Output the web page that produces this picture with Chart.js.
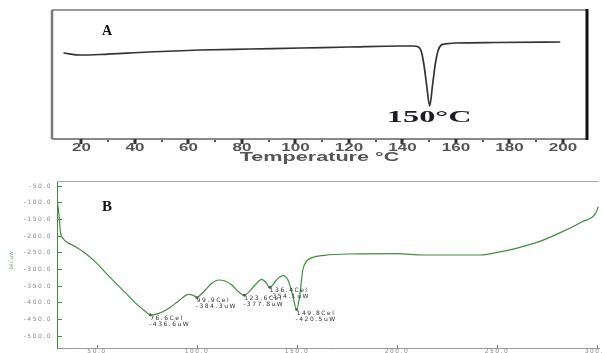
<html>

<head>
    <meta charset="utf-8" />
    <script src="https://cdn.jsdelivr.net/npm/chart.js@4.4.0/dist/chart.umd.min.js"></script>
    <title>DSC curves</title>
    <style>
        body { margin: 0; background: #fff; }
        canvas { position: absolute; left: 0; }
    </style>
</head>

<body>
    <canvas id="chart-a" width="603" height="170" style="top:0px"></canvas>
    <canvas id="chart-b" width="603" height="183" style="top:170px"></canvas>
    <script>
        // panel A : temperature (°C) vs heat flow (arbitrary units)
        const tempA = [13.3, 19.6, 27, 45, 64.5, 83, 102, 120, 139.4, 144, 146, 147, 148, 149, 150.2, 151.3, 152.3, 153.3, 154.5, 156, 160, 175, 199];
        const flowA = [86, 84, 84.5, 87, 89, 90, 91, 92, 93, 93, 92, 88, 75, 55, 33, 55, 75, 88, 94, 95, 96, 96.5, 97];
        const ticksA = [20, 30, 40, 50, 60, 70, 80, 90, 100, 110, 120, 130, 140, 150, 160, 170, 180, 190, 200];
        const labelsA = [20, 40, 60, 80, 100, 120, 140, 160, 180, 200];

        // panel B : temperature (Cel) vs DSC (uW)
        const tempB = [30.1, 31.1, 31.7, 33, 34.7, 39.7, 44.6, 49.6, 54.6, 59.5, 64.5, 69.4, 74.4, 76.6, 81, 86, 90.9, 95.9, 98.2, 99.9, 101.5, 104.2, 107.4, 110.8, 114.1, 117.4, 120.7, 123.6, 125.6, 129, 132.4, 134.5, 136.4, 139.7, 143, 145.5, 148, 149.8, 151.3, 152.9, 154.6, 157.9, 163.7, 175.2, 200, 213.3, 241.4, 249.6, 259.6, 271.1, 282.7, 292.6, 299.3, 300.6];
        const dscB = [-92, -142, -187, -207, -217, -234, -254, -280, -312, -342, -372, -402, -427, -436.6, -432, -417, -394, -375, -378, -384.3, -378, -362, -342, -332, -335, -347, -367, -377.8, -370, -347, -330, -340, -354.1, -332, -319, -332, -382, -420.5, -382, -302, -277, -264, -258, -254, -253, -257, -257, -250, -237, -217, -187, -157, -132, -112];
        const peakT = [76.6, 99.9, 123.6, 136.4, 149.8];
        const peakV = [-436.6, -384.3, -377.8, -354.1, -420.5];
        const ticksBx = [50, 100, 150, 200, 250, 300];
        const ticksBy = [-50, -100, -150, -200, -250, -300, -350, -400, -450, -500];

        const green = '#3f8f3f';

        Chart.defaults.animation = false;
        Chart.defaults.font.family = '"DejaVu Sans", sans-serif';
        Chart.defaults.plugins.legend.display = false;
        Chart.defaults.plugins.tooltip.enabled = false;

        // keep the plot box exactly where the picture has it
        function noPad(s) {
            s.paddingTop = 0; s.paddingBottom = 0;
            s.paddingLeft = 0; s.paddingRight = 0;
        }

        // frame, tick marks and stretched labels of panel A
        const panelA = {
            id: 'panelA',
            beforeDatasetsDraw(chart) {
                const { ctx, chartArea: a } = chart;
                ctx.save();
                ctx.lineWidth = 2; ctx.strokeStyle = '#9a9a9a';
                ctx.beginPath(); ctx.moveTo(a.left, a.top); ctx.lineTo(a.right, a.top); ctx.stroke();
                ctx.strokeStyle = '#888';
                ctx.beginPath(); ctx.moveTo(a.left, a.bottom); ctx.lineTo(a.right, a.bottom); ctx.stroke();
                ctx.lineWidth = 2.5; ctx.strokeStyle = '#7a7a7a';
                ctx.beginPath(); ctx.moveTo(a.left, a.top); ctx.lineTo(a.left, a.bottom); ctx.stroke();
                ctx.lineWidth = 3; ctx.strokeStyle = '#111';
                ctx.beginPath(); ctx.moveTo(a.right, a.top - 1); ctx.lineTo(a.right, a.bottom + 1); ctx.stroke();
                ctx.restore();
            },
            afterDraw(chart) {
                const { ctx, chartArea: a } = chart;
                const xs = chart.scales.x;
                ctx.save();
                // tick marks below the axis
                ticksA.forEach(v => {
                    const major = labelsA.includes(v);
                    const px = Math.round(xs.getPixelForValue(v));
                    ctx.fillStyle = major ? '#333' : '#555';
                    if (major) {
                        ctx.fillRect(px - 1.5, a.bottom, 3, 5);
                    } else {
                        ctx.fillRect(px - 1, a.bottom + 1, 2, 2);
                    }
                });
                ctx.textAlign = 'center';
                ctx.textBaseline = 'middle';
                ctx.fillStyle = '#555';
                ctx.font = 'bold 10px "Liberation Sans"';
                labelsA.forEach(v => {
                    ctx.save();
                    ctx.translate(xs.getPixelForValue(v), xs.top + 9.5);
                    ctx.scale(1.7, 1);
                    ctx.fillText(String(v), 0, 0);
                    ctx.restore();
                });
                ctx.save();
                ctx.font = 'bold 12px "Liberation Sans"';
                ctx.translate((a.left + a.right) / 2, xs.top + 19);
                ctx.scale(1.8, 1);
                ctx.fillText('Temperature °C', 0, 0);
                ctx.restore();

                ctx.fillStyle = '#111';
                ctx.font = 'bold 14px "Liberation Serif"';
                ctx.fillText('A', 107, 31);

                ctx.fillStyle = '#1c1c28';
                ctx.font = 'bold 17px "Liberation Serif"';
                ctx.translate(xs.getPixelForValue(150), 118);
                ctx.scale(1.9, 1);
                ctx.fillText('150°C', 0, 0);
                ctx.restore();
            }
        };

        new Chart(document.getElementById('chart-a'), {
            type: 'line',
            data: {
                datasets: [{
                    data: tempA.map((t, i) => ({ x: t, y: flowA[i] })),
                    borderColor: '#333',
                    borderWidth: 1.7,
                    pointRadius: 0,
                    cubicInterpolationMode: 'monotone'
                }]
            },
            options: {
                responsive: false,
                layout: { padding: { top: 10, left: 52, right: 16, bottom: 4 } },
                scales: {
                    x: {
                        type: 'linear', min: 9, max: 209,
                        afterBuildTicks: s => { s.ticks = ticksA.map(v => ({ value: v })); },
                        afterFit: s => { s.height = 27; noPad(s); },
                        ticks: { display: false },
                        border: { display: false },
                        grid: { display: false }
                    },
                    y: { display: false, min: 0, max: 129 }
                }
            },
            plugins: [panelA]
        });

        // panel B text
        const panelB = {
            id: 'panelB',
            beforeDraw(chart) {
                chart.ctx.letterSpacing = '1.5px';
            },
            beforeDatasetsDraw(chart) {
                const { ctx, chartArea: a } = chart;
                ctx.save();
                ctx.lineWidth = 1; ctx.strokeStyle = '#aaa';
                ctx.beginPath(); ctx.moveTo(a.left, a.top + 0.5); ctx.lineTo(a.right, a.top + 0.5); ctx.stroke();
                ctx.restore();
            },
            afterDraw(chart) {
                const { ctx, chartArea: a } = chart;
                const xs = chart.scales.x, ys = chart.scales.y;
                ctx.save();
                ctx.font = '6px "DejaVu Sans"';
                ctx.fillStyle = '#333';
                ctx.textAlign = 'left';
                ctx.textBaseline = 'middle';
                peakT.forEach((t, i) => {
                    const px = xs.getPixelForValue(t), py = ys.getPixelForValue(peakV[i]);
                    ctx.fillText(t.toFixed(1) + 'Cel', px, py + 3.5);
                    ctx.fillText(peakV[i].toFixed(1) + 'uW', px - 1, py + 9.5);
                });
                ctx.letterSpacing = '0px';
                ctx.textAlign = 'center';
                ctx.fillStyle = '#111';
                ctx.font = 'bold 15px "Liberation Serif"';
                ctx.fillText('B', 107, 37);
                ctx.translate(12, (a.top + a.bottom) / 2 - 4);
                ctx.rotate(-Math.PI / 2);
                ctx.fillStyle = '#5aa05a';
                ctx.font = '4.5px "DejaVu Sans"';
                ctx.fillText('DSC uW', 0, 0);
                ctx.restore();
            }
        };

        new Chart(document.getElementById('chart-b'), {
            type: 'line',
            data: {
                datasets: [{
                    data: tempB.map((t, i) => ({ x: t, y: dscB[i] })),
                    borderColor: green,
                    borderWidth: 1.2,
                    pointRadius: 0,
                    cubicInterpolationMode: 'monotone'
                }, {
                    data: peakT.map((t, i) => ({ x: t, y: peakV[i] })),
                    showLine: false,
                    pointRadius: 1.3,
                    pointBackgroundColor: '#222',
                    pointBorderColor: '#222',
                    pointBorderWidth: 0
                }]
            },
            options: {
                responsive: false,
                layout: { padding: { top: 11, left: 0, right: 0, bottom: 0 } },
                scales: {
                    x: {
                        type: 'linear', min: 30, max: 301,
                        afterBuildTicks: s => { s.ticks = ticksBx.map(v => ({ value: v })); },
                        afterFit: s => { s.height = 5; noPad(s); },
                        ticks: {
                            autoSkip: false, maxRotation: 0, padding: 3,
                            color: '#888', font: { size: 6 },
                            callback: v => v.toFixed(1)
                        },
                        border: { color: '#999', width: 1 },
                        grid: { drawOnChartArea: false, tickLength: -3, tickColor: '#777' }
                    },
                    y: {
                        min: -536, max: -35,
                        afterBuildTicks: s => { s.ticks = ticksBy.map(v => ({ value: v })); },
                        afterFit: s => { s.width = 57; noPad(s); },
                        ticks: {
                            padding: 10, color: '#888', font: { size: 6 },
                            callback: v => v.toFixed(1)
                        },
                        border: { color: green, width: 1 },
                        grid: { drawOnChartArea: false, tickLength: -5, tickColor: green }
                    }
                }
            },
            plugins: [panelB]
        });
    </script>
</body>

</html>
